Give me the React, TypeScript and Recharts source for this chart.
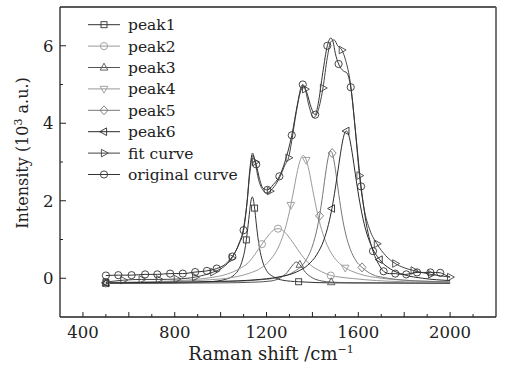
import { ComposedChart, Line, XAxis, YAxis, ReferenceLine, Legend } from 'recharts';

type Pt = [number, number];

// Fitted component bands (x in cm^-1, y in 10^3 a.u.)
const PEAK1: Pt[] = [
  [500, -0.13], [800, -0.12], [950, -0.09], [1020, -0.03], [1060, 0.09], [1080, 0.24],
  [1095, 0.47], [1105, 0.72], [1112, 0.99], [1120, 1.38], [1125, 1.65], [1132, 1.99],
  [1138, 2.1], [1143, 2.02], [1148, 1.81], [1155, 1.43], [1160, 1.17], [1170, 0.76],
  [1182, 0.45], [1200, 0.2], [1230, 0.04], [1270, -0.05], [1340, -0.09], [1500, -0.12],
  [1700, -0.12], [2000, -0.13],
];
const PEAK1_MARKS = [500, 1112, 1148, 1340];

const PEAK2: Pt[] = [
  [500, -0.11], [700, -0.09], [850, -0.05], [950, 0.01], [1030, 0.11], [1080, 0.24],
  [1120, 0.4], [1150, 0.62], [1180, 0.88], [1210, 1.12], [1230, 1.24], [1250, 1.28],
  [1270, 1.24], [1290, 1.12], [1320, 0.88], [1350, 0.62], [1390, 0.35], [1440, 0.17],
  [1480, 0.07], [1520, 0.03], [1580, -0.01], [1680, -0.06], [1800, -0.09], [2000, -0.11],
];
const PEAK2_MARKS = [500, 1180, 1250, 1480];

const PEAK3: Pt[] = [
  [500, -0.13], [1000, -0.12], [1150, -0.1], [1220, -0.07], [1260, 0.01], [1290, 0.15],
  [1310, 0.31], [1330, 0.42], [1345, 0.35], [1370, 0.15], [1400, 0.01], [1440, -0.07],
  [1482, -0.1], [1600, -0.12], [2000, -0.13],
];
const PEAK3_MARKS = [500, 1345, 1482];

const PEAK4: Pt[] = [
  [500, -0.11], [700, -0.1], [850, -0.07], [950, -0.04], [1050, 0.02], [1120, 0.12],
  [1180, 0.28], [1220, 0.5], [1250, 0.78], [1275, 1.16], [1295, 1.59], [1306, 1.89],
  [1320, 2.32], [1335, 2.78], [1348, 3.07], [1360, 3.17], [1373, 3.05], [1385, 2.78],
  [1400, 2.32], [1415, 1.87], [1430, 1.47], [1450, 1.07], [1480, 0.67], [1510, 0.43],
  [1543, 0.27], [1600, 0.12], [1700, 0.0], [1800, -0.05], [2000, -0.09],
];
const PEAK4_MARKS = [500, 1306, 1373, 1543];

const PEAK5: Pt[] = [
  [500, -0.12], [800, -0.11], [1000, -0.09], [1150, -0.05], [1250, 0.02], [1320, 0.17],
  [1370, 0.45], [1400, 0.83], [1420, 1.27], [1431, 1.61], [1445, 2.16], [1460, 2.81],
  [1470, 3.15], [1480, 3.28], [1486, 3.23], [1495, 3.0], [1505, 2.6], [1515, 2.16],
  [1530, 1.58], [1545, 1.14], [1565, 0.75], [1590, 0.45], [1616, 0.28], [1660, 0.1],
  [1720, 0.01], [1800, -0.05], [1900, -0.08], [2000, -0.1],
];
const PEAK5_MARKS = [500, 1431, 1486, 1616];

const PEAK6: Pt[] = [
  [500, -0.12], [800, -0.1], [1000, -0.08], [1150, -0.04], [1250, 0.03], [1330, 0.16],
  [1380, 0.34], [1420, 0.62], [1450, 0.99], [1470, 1.39], [1485, 1.8], [1500, 2.33],
  [1515, 2.93], [1530, 3.49], [1540, 3.74], [1548, 3.8], [1556, 3.74], [1566, 3.49],
  [1580, 2.97], [1595, 2.37], [1610, 1.84], [1630, 1.3], [1655, 0.86], [1693, 0.48],
  [1740, 0.24], [1800, 0.09], [1880, 0.0], [2000, -0.06],
];
const PEAK6_MARKS = [500, 1485, 1548, 1693];

const FIT: Pt[] = [
  [500, -0.1], [576, -0.05], [656, -0.03], [731, -0.03], [809, -0.02], [889, 0.03],
  [968, 0.16], [1010, 0.28], [1049, 0.52], [1080, 0.9], [1100, 1.3], [1115, 1.95],
  [1128, 2.75], [1140, 3.17], [1150, 3.0], [1165, 2.55], [1185, 2.27], [1200, 2.2],
  [1215, 2.25], [1240, 2.42], [1259, 2.62], [1280, 2.92], [1296, 3.11], [1310, 3.55],
  [1330, 4.3], [1350, 4.85], [1362, 4.95], [1368, 4.88], [1385, 4.45], [1405, 4.15],
  [1420, 4.25], [1446, 4.91], [1465, 5.7], [1480, 6.1], [1495, 6.15], [1510, 6.0],
  [1528, 5.89], [1545, 5.62], [1565, 5.05], [1585, 3.95], [1605, 2.65], [1625, 1.8],
  [1650, 1.25], [1681, 0.89], [1720, 0.58], [1761, 0.38], [1800, 0.27], [1841, 0.2],
  [1917, 0.1], [2000, 0.03],
];
const FIT_MARKS = [500, 576, 656, 731, 809, 889, 968, 1049, 1150, 1215, 1296, 1368, 1446, 1528, 1605, 1681, 1761, 1841, 1917, 2000];

// Measured spectrum
const ORIGINAL: Pt[] = [
  [500, 0.07], [554, 0.08], [612, 0.08], [671, 0.1], [724, 0.1], [780, 0.12], [835, 0.12],
  [889, 0.16], [940, 0.19], [983, 0.25], [1020, 0.36], [1051, 0.56], [1080, 0.88],
  [1100, 1.24], [1115, 1.95], [1128, 2.85], [1139, 3.23], [1146, 3.12], [1155, 2.94],
  [1170, 2.55], [1185, 2.32], [1204, 2.28], [1230, 2.42], [1256, 2.63], [1280, 3.0],
  [1310, 3.69], [1335, 4.5], [1350, 4.92], [1358, 5.0], [1375, 4.8], [1395, 4.4],
  [1412, 4.22], [1425, 4.5], [1445, 5.3], [1465, 6.0], [1480, 6.2], [1490, 6.1],
  [1500, 5.8], [1514, 5.53], [1535, 5.35], [1550, 5.3], [1567, 4.93], [1590, 3.65],
  [1612, 2.37], [1635, 1.4], [1664, 0.7], [1690, 0.35], [1710, 0.18], [1735, 0.12],
  [1761, 0.12], [1785, 0.1], [1809, 0.1], [1833, 0.13], [1856, 0.15], [1885, 0.15],
  [1914, 0.15], [1935, 0.15], [1957, 0.14], [1980, 0.08], [2000, 0.03],
];
const ORIGINAL_MARKS = [500, 554, 612, 671, 724, 780, 835, 889, 940, 983, 1051, 1100, 1155, 1204, 1256, 1310, 1358, 1412, 1465, 1514, 1567, 1612, 1664, 1710, 1761, 1809, 1856, 1914, 1957];

const X_TICKS = [400, 500, 600, 700, 800, 900, 1000, 1100, 1200, 1300, 1400, 1500, 1600, 1700, 1800, 1900, 2000, 2100];
const Y_TICKS = [0, 1, 2, 3, 4, 5, 6];

const FONT = '"DejaVu Serif", serif';
const INK = '#222';

type Shape = 'square' | 'circle' | 'up' | 'down' | 'diamond' | 'left' | 'right';

const SERIES: { name: string; data: Pt[]; marks: number[]; shape: Shape; color: string }[] = [
  { name: 'peak1', data: PEAK1, marks: PEAK1_MARKS, shape: 'square', color: '#333' },
  { name: 'peak2', data: PEAK2, marks: PEAK2_MARKS, shape: 'circle', color: '#999' },
  { name: 'peak3', data: PEAK3, marks: PEAK3_MARKS, shape: 'up', color: '#555' },
  { name: 'peak4', data: PEAK4, marks: PEAK4_MARKS, shape: 'down', color: '#9a9a9a' },
  { name: 'peak5', data: PEAK5, marks: PEAK5_MARKS, shape: 'diamond', color: '#777' },
  { name: 'peak6', data: PEAK6, marks: PEAK6_MARKS, shape: 'left', color: '#2a2a2a' },
  { name: 'fit curve', data: FIT, marks: FIT_MARKS, shape: 'right', color: '#444' },
  { name: 'original curve', data: ORIGINAL, marks: ORIGINAL_MARKS, shape: 'circle', color: '#333' },
];

function Marker({ shape, cx, cy, color }: { shape: Shape; cx: number; cy: number; color: string }) {
  const st = { fill: 'none', stroke: color, strokeWidth: 0.9 };
  const poly = (pts: number[][]) => pts.map(([dx, dy]) => `${cx + dx},${cy + dy}`).join(' ');
  switch (shape) {
    case 'square':
      return <rect x={cx - 3} y={cy - 3} width={6} height={6} {...st} />;
    case 'circle':
      return <circle cx={cx} cy={cy} r={3.6} {...st} />;
    case 'up':
      return <polygon points={poly([[0, -4.3], [3.8, 2.6], [-3.8, 2.6]])} {...st} />;
    case 'down':
      return <polygon points={poly([[0, 4.3], [3.8, -2.6], [-3.8, -2.6]])} {...st} />;
    case 'diamond':
      return <polygon points={poly([[0, -4.5], [4, 0], [0, 4.5], [-4, 0]])} {...st} />;
    case 'left':
      return <polygon points={poly([[-4.3, 0], [2.6, -3.8], [2.6, 3.8]])} {...st} />;
    default:
      return <polygon points={poly([[4.3, 0], [-2.6, -3.8], [-2.6, 3.8]])} {...st} />;
  }
}

function XTick({ x, y, payload }: any) {
  const v = payload.value as number;
  const len = v % 200 === 0 ? 5 : 3;
  return (
    <g>
      <line x1={x} y1={y} x2={x} y2={y - len} stroke={INK} strokeWidth={1} />
      {v % 400 === 0 && (
        <text x={x} y={y + 21} textAnchor="middle" fontFamily={FONT} fontSize={16.5} fill={INK}>
          {v}
        </text>
      )}
    </g>
  );
}

function YTick({ x, y, payload }: any) {
  const v = payload.value as number;
  const major = v % 2 === 0;
  return (
    <g>
      <line x1={x} y1={y} x2={x + (major ? 6 : 3)} y2={y} stroke={INK} strokeWidth={1} />
      {major && (
        <text x={x - 6.5} y={y + 6} textAnchor="end" fontFamily={FONT} fontSize={16.5} fill={INK}>
          {v}
        </text>
      )}
    </g>
  );
}

function XTitle() {
  return (
    <text x={271} y={360} textAnchor="middle" fontFamily={FONT} fontSize={18} fill={INK}>
      Raman shift /cm
      <tspan fontSize={11} dy={-7}>−1</tspan>
    </text>
  );
}

function YTitle() {
  return (
    <text
      x={28}
      y={153}
      transform="rotate(-90 28 153)"
      textAnchor="middle"
      fontFamily={FONT}
      fontSize={16}
      fill={INK}
    >
      Intensity (10
      <tspan fontSize={11} dy={-6}>3</tspan>
      <tspan dy={6}> a.u.)</tspan>
    </text>
  );
}

function LegendBox() {
  const rowH = 21.4;
  return (
    <svg width={170} height={rowH * SERIES.length} style={{ display: 'block' }}>
      {SERIES.map((s, i) => {
        const cy = rowH * i + rowH / 2;
        return (
          <g key={s.name}>
            <line x1={4} y1={cy} x2={36} y2={cy} stroke={s.color} strokeWidth={1} />
            <Marker shape={s.shape} cx={20} cy={cy} color={s.color} />
            <text x={44} y={cy + 5.5} fontFamily={FONT} fontSize={15.5} fill={INK}>
              {s.name}
            </text>
          </g>
        );
      })}
    </svg>
  );
}

export default function App() {
  return (
    <div style={{ position: 'absolute', left: 0, top: 0, width: 505, height: 369, background: '#fff' }}>
      <ComposedChart width={505} height={369} margin={{ top: 7, right: 9, left: 0, bottom: 0 }}>
        <XAxis
          type="number"
          dataKey="x"
          domain={[300, 2200]}
          ticks={X_TICKS}
          interval={0}
          allowDataOverflow
          height={52}
          tickSize={0}
          tickMargin={0}
          tickLine={false}
          tick={<XTick />}
          axisLine={{ stroke: INK, strokeWidth: 1.3 }}
          label={<XTitle />}
        />
        <YAxis
          type="number"
          domain={[-1, 7]}
          ticks={Y_TICKS}
          interval={0}
          allowDataOverflow
          width={60}
          tickSize={0}
          tickMargin={0}
          tickLine={false}
          tick={<YTick />}
          axisLine={{ stroke: INK, strokeWidth: 1.3 }}
          label={<YTitle />}
        />
        <ReferenceLine y={7} stroke={INK} strokeWidth={1.3} />
        <ReferenceLine x={2200} stroke="#666" strokeWidth={1.8} />
        <Legend
          layout="vertical"
          align="center"
          verticalAlign="middle"
          wrapperStyle={{ left: 84, top: 14, width: 170 }}
          content={() => <LegendBox />}
        />
        {SERIES.map((s) => (
          <Line
            key={s.name}
            name={s.name}
            data={s.data.map(([x, y]) => ({ x, y }))}
            dataKey="y"
            type="monotone"
            stroke={s.color}
            strokeWidth={1}
            isAnimationActive={false}
            activeDot={false}
            dot={(p: any) =>
              s.marks.includes(p.payload.x) ? (
                <Marker key={`${s.name}-${p.index}`} shape={s.shape} cx={p.cx} cy={p.cy} color={s.color} />
              ) : (
                <g key={`${s.name}-${p.index}`} />
              )
            }
          />
        ))}
      </ComposedChart>
    </div>
  );
}
